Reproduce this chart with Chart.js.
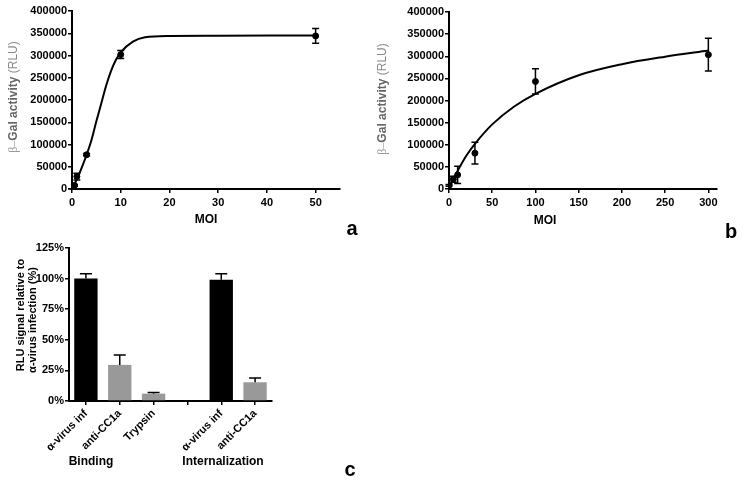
<!DOCTYPE html>
<html>
<head>
<meta charset="utf-8">
<script src="https://cdn.jsdelivr.net/npm/chart.js@4.4.0/dist/chart.umd.min.js"></script>
<style>
  body { margin: 0; background: #fff; width: 743px; height: 483px; position: relative; overflow: hidden; }
  canvas { position: absolute; }
</style>
</head>
<body>
<canvas id="chartA" width="370" height="240" style="left:0;top:0"></canvas>
<canvas id="chartB" width="373" height="240" style="left:370px;top:0"></canvas>
<canvas id="chartC" width="370" height="243" style="left:0;top:240px"></canvas>
<script>
// panel a - measured points and fitted curve
const moiA = [0, 0.5, 1, 3, 10, 50];
const rluA = [0, 8000, 28000, 77000, 302000, 344000];
const errA = [0, 2000, 7500, 2500, 9000, 16500];
const fitMoiA = [0, 1, 2, 3, 4, 5, 6, 7, 8, 9, 10, 12.5, 15, 20, 30, 50];
const fitRluA = [0, 22000, 48000, 77000, 110000, 152000, 192000, 232000, 265000, 290000, 307000, 331000, 341000, 344000, 344500, 345000];

// panel b
const moiB = [0, 5, 10, 30, 100, 300];
const rluB = [8000, 22000, 32000, 81000, 243000, 303500];
const errB = [2000, 7000, 19500, 24500, 28500, 37000];
const fitMoiB = [0, 5, 10, 20, 30, 50, 75, 100, 150, 200, 250, 300];
const fitRluB = [0, 22000, 41000, 75000, 102000, 146000, 186000, 215000, 257000, 282000, 299000, 313000];

// panel c
const treatments = ['α-virus inf', 'anti-CC1a', 'Trypsin', '', 'α-virus inf', 'anti-CC1a'];
const signal = [100, 29.5, 6, null, 99, 15.3];
const signalErr = [4, 8, 1, null, 5, 3.5];

const FONT = '"Liberation Sans", Arial, sans-serif';

const errorBars = {
  id: 'errorBars',
  afterDatasetsDraw(chart) {
    const ctx = chart.ctx, y = chart.scales.y;
    chart.data.datasets.forEach((ds, i) => {
      if (!ds.err) return;
      const cap = ds.capHalf || 3.5;
      chart.getDatasetMeta(i).data.forEach((el, j) => {
        const e = ds.err[j], d = ds.data[j];
        if (e == null || d == null) return;
        const v = typeof d === 'object' ? d.y : d;
        const top = y.getPixelForValue(v + e);
        const bot = ds.upOnly ? el.y : y.getPixelForValue(v - e);
        ctx.save();
        ctx.strokeStyle = '#000';
        ctx.lineWidth = 1.5;
        ctx.beginPath();
        ctx.moveTo(el.x, top); ctx.lineTo(el.x, bot);
        ctx.moveTo(el.x - cap, top); ctx.lineTo(el.x + cap, top);
        if (!ds.upOnly) { ctx.moveTo(el.x - cap, bot); ctx.lineTo(el.x + cap, bot); }
        ctx.stroke();
        ctx.restore();
      });
    });
  }
};

function text(ctx, str, x, y, font, color, angle) {
  ctx.save();
  ctx.translate(x, y);
  if (angle) ctx.rotate(angle);
  ctx.font = font;
  ctx.fillStyle = color;
  ctx.textAlign = 'center';
  ctx.textBaseline = 'middle';
  ctx.fillText(str, 0, 0);
  ctx.restore();
}

// mixed-style text, centred at x,y
function segs(ctx, parts, x, y, angle) {
  ctx.save();
  ctx.translate(x, y);
  ctx.rotate(angle);
  ctx.textAlign = 'left';
  ctx.textBaseline = 'middle';
  let w = 0;
  parts.forEach(p => { ctx.font = p[1]; w += ctx.measureText(p[0]).width; });
  let cx = -w / 2;
  parts.forEach(p => {
    ctx.font = p[1]; ctx.fillStyle = p[2];
    ctx.fillText(p[0], cx, 0);
    cx += ctx.measureText(p[0]).width;
  });
  ctx.restore();
}

function galTitle(ctx, x, y) {
  segs(ctx, [
    ['β–', '12px "Liberation Serif", serif', '#999'],
    ['Gal activity', 'bold 12px ' + FONT, '#666'],
    [' (RLU)', '12px ' + FONT, '#888']
  ], x, y, -Math.PI / 2);
}

function axisBase() {
  return {
    border: { color: '#000', width: 2 },
    grid: { drawOnChartArea: false, drawTicks: true, tickLength: 4, color: '#000', lineWidth: 1.5 },
    ticks: { color: '#000', font: { family: FONT, size: 11, weight: 'bold' } }
  };
}

function xyScales(xMax, xStep, yWidth, xHeight) {
  const x = axisBase(), y = axisBase();
  x.type = 'linear'; x.min = 0; x.max = xMax;
  x.ticks.stepSize = xStep; x.ticks.includeBounds = false; x.ticks.padding = 3;
  x.afterFit = s => { s.height = xHeight; };
  y.min = 0; y.max = 400000;
  y.ticks.stepSize = 50000; y.ticks.padding = 1;
  y.ticks.callback = v => String(v);
  y.afterFit = s => { s.width = yWidth; };
  return { x, y };
}

function curveSets(fx, fy, px, py, pe) {
  return [
    { data: fx.map((x, i) => ({ x, y: fy[i] })), showLine: true, pointRadius: 0,
      borderColor: '#000', borderWidth: 2, cubicInterpolationMode: 'monotone' },
    { data: px.map((x, i) => ({ x, y: py[i] })), err: pe, pointRadius: 3,
      backgroundColor: '#000', borderColor: '#000' }
  ];
}

const baseOpts = { responsive: false, animation: false,
  plugins: { legend: { display: false }, tooltip: { enabled: false } } };

new Chart(document.getElementById('chartA'), {
  type: 'scatter',
  data: { datasets: curveSets(fitMoiA, fitRluA, moiA, rluA, errA) },
  options: Object.assign({}, baseOpts, {
    layout: { padding: { top: 11, right: 30, left: 0, bottom: 0 } },
    scales: xyScales(55, 10, 72, 51)
  }),
  plugins: [errorBars, { id: 'textA', afterDraw(chart) {
    const ctx = chart.ctx;
    galTitle(ctx, 14, 97);
    text(ctx, 'MOI', 206, 220, 'bold 12px ' + FONT, '#000');
    text(ctx, 'a', 352, 229, 'bold 20px ' + FONT, '#000');
  } }]
});

new Chart(document.getElementById('chartB'), {
  type: 'scatter',
  data: { datasets: curveSets(fitMoiB, fitRluB, moiB, rluB, errB) },
  options: Object.assign({}, baseOpts, {
    layout: { padding: { top: 12, right: 26, left: 0, bottom: 0 } },
    scales: xyScales(310, 50, 79, 51)
  }),
  plugins: [errorBars, { id: 'textB', afterDraw(chart) {
    const ctx = chart.ctx;
    galTitle(ctx, 13, 99);
    text(ctx, 'MOI', 175, 221, 'bold 12px ' + FONT, '#000');
    text(ctx, 'b', 361, 232, 'bold 20px ' + FONT, '#000');
  } }]
});

const xC = axisBase(), yC = axisBase();
xC.grid.offset = false;
xC.ticks.minRotation = 45; xC.ticks.maxRotation = 45; xC.ticks.autoSkip = false; xC.ticks.padding = 2;
xC.afterFit = s => { s.height = 82; };
yC.min = 0; yC.max = 125;
yC.ticks.stepSize = 25; yC.ticks.padding = 1;
yC.ticks.callback = v => v + '%';
yC.afterFit = s => { s.width = 69; };

new Chart(document.getElementById('chartC'), {
  type: 'bar',
  data: { labels: treatments, datasets: [{
    data: signal, err: signalErr, upOnly: true, capHalf: 6,
    backgroundColor: ['#000', '#999', '#999', '#999', '#000', '#999'],
    barPercentage: 0.69, categoryPercentage: 1
  }] },
  options: Object.assign({}, baseOpts, {
    layout: { padding: { top: 8, right: 98, left: 0, bottom: 0 } },
    scales: { x: xC, y: yC }
  }),
  plugins: [errorBars, { id: 'textC', afterDraw(chart) {
    const ctx = chart.ctx;
    text(ctx, 'RLU signal relative to', 21, 75, 'bold 11px ' + FONT, '#000', -Math.PI / 2);
    text(ctx, 'α-virus infection (%)', 33, 80, 'bold 11px ' + FONT, '#000', -Math.PI / 2);
    text(ctx, 'Binding', 91, 222, 'bold 12px ' + FONT, '#000');
    text(ctx, 'Internalization', 223, 222, 'bold 12px ' + FONT, '#000');
    text(ctx, 'c', 350, 230, 'bold 20px ' + FONT, '#000');
  } }]
});
</script>
</body>
</html>
